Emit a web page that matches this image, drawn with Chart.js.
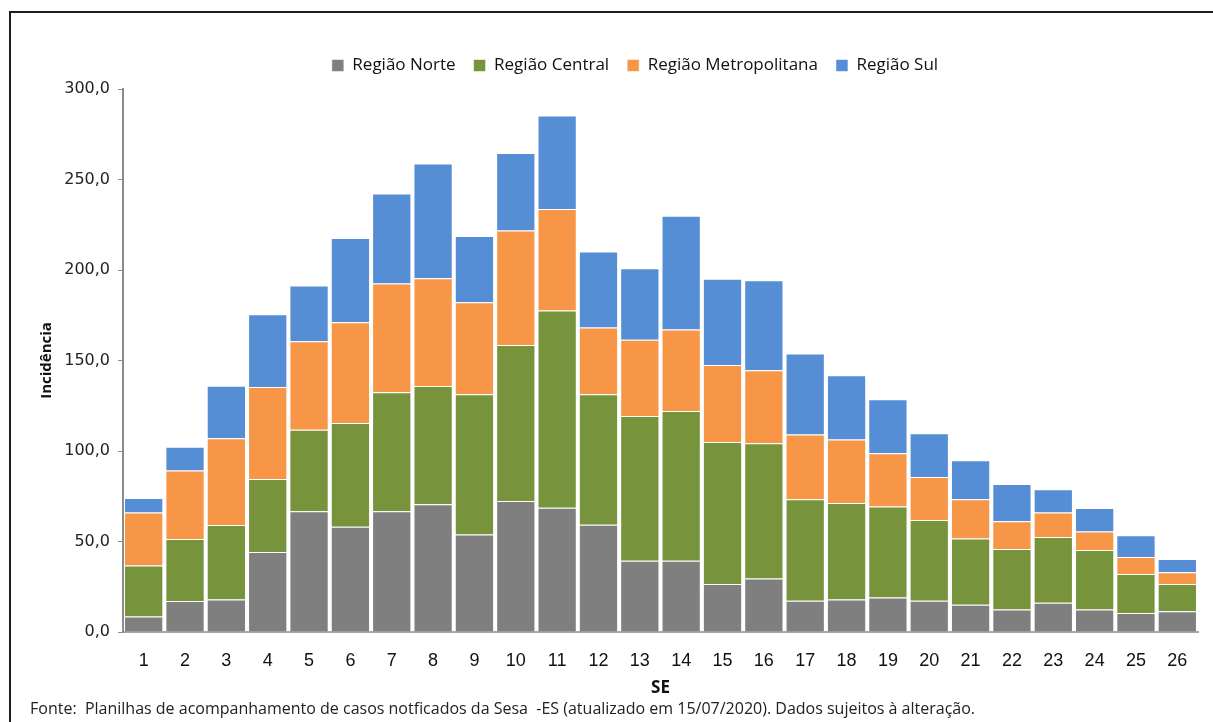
<!DOCTYPE html>
<html lang="pt">
<head>
  <meta charset="UTF-8" />
  <title>Incidência por região</title>
  <script src="https://cdn.jsdelivr.net/npm/chart.js"></script>
  <style>
    html, body { margin: 0; padding: 0; background: #fff; }
    body { width: 1213px; height: 722px; position: relative; overflow: hidden; }
    .frame { position: absolute; left: 9px; top: 11px; width: 1300px; height: 800px;
             border-left: 2px solid #1e1e1e; border-top: 2px solid #1e1e1e; }
    #wrap { position: absolute; left: 0; top: 0; width: 1213px; height: 722px; }
    .fonte { position: absolute; left: 30px; top: 697px; font-family: 'Open Sans', sans-serif;
             font-size: 16px; color: #222; white-space: nowrap; }
  </style>
</head>
<body>
  <div class="frame"></div>
  <div id="wrap"><canvas id="chart" width="1213" height="722"></canvas></div>
  <div class="fonte">Fonte:&nbsp; Planilhas de acompanhamento de casos notficados da Sesa&nbsp; -ES (atualizado em 15/07/2020). Dados sujeitos à alteração.</div>

  <script>
    // semanas epidemiológicas
    const semanas = ['1','2','3','4','5','6','7','8','9','10','11','12','13','14','15','16','17','18','19','20','21','22','23','24','25','26'];

    // incidência por região
    const norte = [8.5, 17.1, 17.9, 44.2, 66.7, 58.2, 66.7, 70.6, 53.8, 72.4, 68.7, 59.3, 39.4, 39.4, 26.5, 29.5, 17.3, 17.9, 19.0, 17.3, 15.1, 12.4, 16.2, 12.4, 10.5, 11.4];
    const central = [28.2, 34.3, 41.2, 40.3, 45.1, 57.3, 65.7, 65.3, 77.5, 86.2, 108.9, 72.0, 79.9, 82.7, 78.5, 74.8, 56.0, 53.4, 50.4, 44.6, 36.5, 33.5, 36.3, 32.9, 21.5, 15.1];
    const metropolitana = [29.3, 37.8, 47.9, 50.9, 48.8, 55.6, 60.1, 59.5, 50.9, 63.2, 56.1, 36.9, 42.2, 45.0, 42.5, 40.3, 35.8, 35.0, 29.3, 23.7, 21.7, 15.3, 13.5, 10.2, 9.4, 6.5];
    const sul = [8.0, 13.2, 29.1, 40.1, 30.9, 46.6, 49.7, 63.5, 36.6, 42.8, 51.6, 42.0, 39.4, 62.9, 47.7, 49.7, 44.7, 35.5, 29.9, 24.2, 21.6, 20.6, 12.8, 13.0, 12.0, 7.3];

    const seriesNames = ['Região Norte', 'Região Central', 'Região Metropolitana', 'Região Sul'];
    const seriesColors = ['#7f7f7f', '#77933c', '#f79646', '#558ed5'];

    const seriesData = [norte, central, metropolitana, sul];

    // altura fixa da legenda, e deslocamento para centralizar como no original
    const legendFix = {
      id: 'legendFix',
      beforeInit(chart) {
        const fit = chart.legend.fit;
        chart.legend.fit = function () {
          fit.bind(chart.legend)();
          this.height = 50;
        };
      },
      afterLayout(chart) {
        chart.legend.left += 21;
        chart.legend.right += 21;
      }
    };

    new Chart(document.getElementById('chart'), {
      type: 'bar',
      data: {
        labels: semanas,
        datasets: seriesData.map((d, i) => ({
          label: seriesNames[i],
          data: d,
          backgroundColor: seriesColors[i],
          borderColor: 'rgba(255,255,255,0.55)',
          borderWidth: 1,
          barPercentage: 0.95,
          categoryPercentage: 1
        }))
      },
      options: {
        responsive: false,
        animation: false,
        layout: { padding: { top: 39, left: 30, right: 15, bottom: 22 } },
        plugins: {
          tooltip: { enabled: false },
          legend: {
            position: 'top',
            labels: {
              boxWidth: 12,
              boxHeight: 12,
              padding: 18,
              color: '#111',
              font: { family: "'Open Sans', sans-serif", size: 17 }
            }
          }
        },
        scales: {
          x: {
            stacked: true,
            grid: { display: false, drawTicks: false },
            border: { display: true, color: '#a6a6a6', width: 2 },
            ticks: { padding: 18, color: '#111', font: { family: "'Liberation Sans', Arial, sans-serif", size: 18 } },
            title: {
              display: true,
              text: 'SE',
              color: '#111',
              padding: { top: 0, bottom: 2 },
              font: { family: "'Open Sans', sans-serif", size: 17, weight: 'bold' }
            },
            afterFit(scale) { scale.height = 68; }
          },
          y: {
            stacked: true,
            min: 0,
            max: 300,
            grid: { drawOnChartArea: false, drawTicks: true, tickLength: 5, color: '#8c8c8c' },
            border: { display: true, color: '#8c8c8c', width: 2 },
            ticks: {
              stepSize: 50,
              padding: 8,
              color: '#222',
              font: { family: "'DejaVu Sans', sans-serif", size: 16 },
              callback: v => v.toFixed(1).replace('.', ',')
            },
            title: {
              display: true,
              text: 'Incidência',
              color: '#111',
              padding: { top: 8, bottom: 0 },
              font: { family: "'Open Sans', sans-serif", size: 15, weight: 'bold' }
            },
            afterFit(scale) { scale.width = 93; }
          }
        }
      },
      plugins: [legendFix]
    });
  </script>
</body>
</html>
